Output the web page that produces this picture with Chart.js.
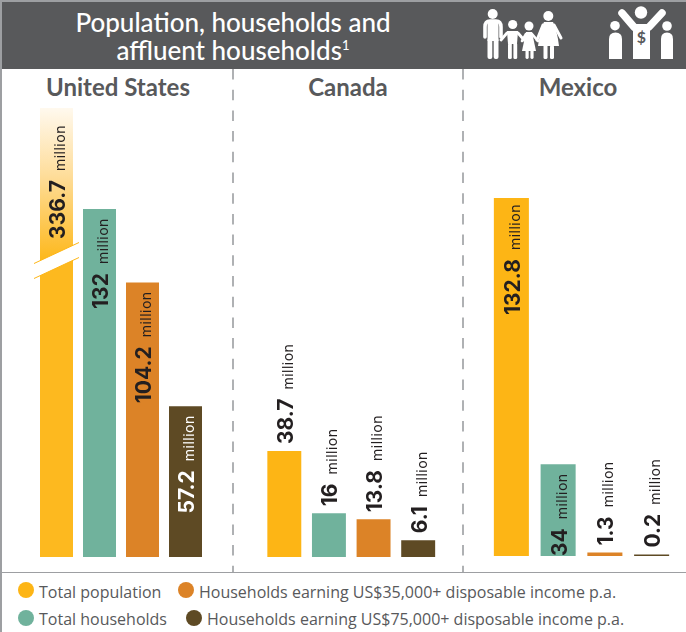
<!DOCTYPE html>
<html>
<head>
<meta charset="utf-8">
<title>Population, households and affluent households</title>
<script src="https://cdn.jsdelivr.net/npm/chart.js@4"></script>
<style>
  html, body { margin: 0; padding: 0; background: #fff; }
  #page { position: relative; width: 686px; height: 632px; overflow: hidden; font-family: "Lato", sans-serif; color: #58595b; }
  #page canvas, #page svg, #page div { position: absolute; }
  #banner { left: 2px; top: 2px; width: 684px; height: 67px; background: #58595b; }
  #frame { left: 0; top: 0; width: 2px; height: 632px; background: #9d9fa2; }
  #topline { left: 0; top: 0; width: 686px; height: 2px; background: #9d9fa2; }
  #rule { left: 2px; top: 572px; width: 684px; height: 1px; background: #9d9fa2; }
  .heading { left: 40px; width: 386px; text-align: center; color: #fff; font-size: 26px; font-weight: 500; line-height: 28px; white-space: nowrap; }
  .heading sup { font-size: 13px; line-height: 0; vertical-align: 10px; }
  .country { top: 73px; text-align: center; font-size: 24px; font-weight: 700; line-height: 28px; }
  .dot { width: 16px; height: 16px; border-radius: 50%; }
  .key { font-family: "Open Sans", sans-serif; font-size: 16px; line-height: 20px; white-space: nowrap; }
</style>
</head>
<body>
<div id="page">
  <div id="topline"></div>
  <div id="frame"></div>
  <div id="banner"></div>
  <div class="heading" style="top:8px">Population, households and</div>
  <div class="heading" style="top:36px">affluent households<sup>1</sup></div>

  <!-- family and earner icons -->
  <svg width="686" height="70" style="left:0;top:0" fill="#fff" stroke="none">
    <circle cx="492.7" cy="14" r="5"/>
    <path d="M485 37V27Q485 21 490 21H496Q501 21 501 27V37" fill="none" stroke="#fff" stroke-width="3.6" stroke-linecap="round"/>
    <rect x="487.5" y="21" width="11" height="20"/>
    <rect x="487.5" y="38" width="4.8" height="21" rx="2"/>
    <rect x="493.7" y="38" width="4.8" height="21" rx="2"/>
    <circle cx="512.7" cy="24.5" r="4.6"/>
    <path d="M507 31H518L517 44H508Z"/>
    <path d="M507 33L501 40M518 33L524 40" fill="none" stroke="#fff" stroke-width="2.8" stroke-linecap="round"/>
    <rect x="508" y="43" width="3.8" height="16" rx="1.5"/>
    <rect x="513.4" y="43" width="3.8" height="16" rx="1.5"/>
    <circle cx="529" cy="26" r="4.5"/>
    <path d="M526 32H532L536 51H522Z"/>
    <path d="M526 34L522 41M532 34L538 41" fill="none" stroke="#fff" stroke-width="2.6" stroke-linecap="round"/>
    <rect x="525.5" y="50" width="3.2" height="9" rx="1.4"/>
    <rect x="530.4" y="50" width="3.2" height="9" rx="1.4"/>
    <circle cx="548.3" cy="16" r="5"/>
    <path d="M544 22H553Q557 30 559 46H538Q540 30 544 22Z"/>
    <path d="M543 25L537 40M554 25L561 38" fill="none" stroke="#fff" stroke-width="3" stroke-linecap="round"/>
    <rect x="543.5" y="45" width="4" height="14" rx="1.6"/>
    <rect x="550" y="45" width="4" height="14" rx="1.6"/>

    <circle cx="615" cy="25.7" r="4.8"/>
    <path d="M609 59V39Q609 32.5 615.5 32.5Q622 32.5 622 39V59Z"/>
    <circle cx="667" cy="26" r="4.8"/>
    <path d="M661 59V39Q661 32.5 667 32.5Q673 32.5 673 39V59Z"/>
    <circle cx="641" cy="12.5" r="6.2"/>
    <path d="M622 13L634 27M662 13L649 27" fill="none" stroke="#fff" stroke-width="7.5" stroke-linecap="round"/>
    <rect x="633" y="24" width="17" height="35"/>
    <text x="641.3" y="43" text-anchor="middle" font-size="16" font-weight="700" fill="#58595b">$</text>
  </svg>

  <!-- panel dividers -->
  <svg width="686" height="632" style="left:0;top:0">
    <line x1="233" y1="69" x2="233" y2="572" stroke="#a7a9ac" stroke-width="1.8" stroke-dasharray="10.5 10.2"/>
    <line x1="463" y1="69" x2="463" y2="572" stroke="#a7a9ac" stroke-width="1.8" stroke-dasharray="10.5 10.2"/>
  </svg>

  <div class="country" style="left:3px;width:230px">United States</div>
  <div class="country" style="left:234px;width:228px">Canada</div>
  <div class="country" style="left:464px;width:228px">Mexico</div>

  <canvas id="usChart" width="230" height="464" style="left:3px;top:100px"></canvas>
  <canvas id="caChart" width="228" height="464" style="left:234px;top:100px"></canvas>
  <canvas id="mxChart" width="222" height="464" style="left:464px;top:100px"></canvas>

  <div id="rule"></div>

  <div class="dot" style="left:18px;top:582px;background:#fdb515"></div>
  <div class="key" style="left:39px;top:582px">Total population</div>
  <div class="dot" style="left:178px;top:582px;background:#dc8327"></div>
  <div class="key" style="left:199px;top:582px">Households earning US$35,000+ disposable income p.a.</div>
  <div class="dot" style="left:18px;top:610px;background:#70b29c"></div>
  <div class="key" style="left:39px;top:609px">Total households</div>
  <div class="dot" style="left:186px;top:610px;background:#5e4a24"></div>
  <div class="key" style="left:207px;top:609px">Households earning US$75,000+ disposable income p.a.</div>
</div>

<script>
const categories = ["Total population", "Total households", "Households earning US$35,000+", "Households earning US$75,000+"];
const barColors = ["#fdb515", "#70b29c", "#dc8327", "#5e4a24"];

const usValues = [336.7, 132, 104.2, 57.2];
const caValues = [38.7, 16, 13.8, 6.1];
const mxValues = [132.8, 34, 1.3, 0.2];

// whether each value label sits inside its bar or above it
const usPlacement = ["inside", "inside", "inside", "inside"];
const caPlacement = ["above", "above", "above", "above"];
const mxPlacement = ["inside", "inside", "above", "above"];

// linear axis that squeezes everything above breakAt, for the off-scale US bar
class BrokenLinearScale extends Chart.LinearScale {
  getPixelForValue(value, index) {
    const breakAt = this.options.breakAt;
    const squeeze = this.options.squeeze;
    const v = value > breakAt ? breakAt + (value - breakAt) * squeeze : value;
    return super.getPixelForValue(v, index);
  }
}
BrokenLinearScale.id = "brokenLinear";
Chart.register(BrokenLinearScale);

// rotated "value million" text
const valueLabels = {
  id: "valueLabels",
  afterDatasetsDraw(chart, args, opts) {
    const ctx = chart.ctx;
    const bars = chart.getDatasetMeta(0).data;
    const values = chart.data.datasets[0].data;
    bars.forEach((bar, i) => {
      const inside = opts.placement[i] === "inside";
      const text = String(values[i]);
      ctx.save();
      ctx.translate(bar.x + 8.5, inside ? bar.y + opts.insets[i] : bar.y - 7);
      ctx.rotate(-Math.PI / 2);
      ctx.textBaseline = "alphabetic";
      ctx.textAlign = "left";
      ctx.fillStyle = (inside && i === 3) ? "#ffffff" : "#231f20";
      ctx.font = "700 21px Inter";
      const numWidth = ctx.measureText(text).width;
      ctx.font = "400 14px Inter";
      ctx.letterSpacing = "0.5px";
      const unitWidth = ctx.measureText("million").width;
      const start = inside ? -(numWidth + 9 + unitWidth) : 0;
      ctx.fillText("million", start + numWidth + 9, 0);
      ctx.letterSpacing = "0px";
      ctx.font = "700 21px Inter";
      ctx.fillText(text, start, 0);
      ctx.restore();
    });
  }
};

// white slash across the off-scale bar
const breakMark = {
  id: "breakMark",
  afterDatasetsDraw(chart, args, opts) {
    if (!opts.value) return;
    const ctx = chart.ctx;
    const bar = chart.getDatasetMeta(0).data[0];
    const y = chart.scales.y.getPixelForValue(opts.value);
    const left = bar.x - 22.5, right = bar.x + 22.5;
    const rise = 10.5, gap = 7.5;
    ctx.save();
    ctx.fillStyle = "#ffffff";
    ctx.beginPath();
    ctx.moveTo(left, y + rise - gap);
    ctx.lineTo(right, y - rise - gap);
    ctx.lineTo(right, y - rise + gap);
    ctx.lineTo(left, y + rise + gap);
    ctx.closePath();
    ctx.fill();
    ctx.strokeStyle = barColors[0];
    ctx.lineWidth = 1;
    ctx.beginPath();
    ctx.moveTo(left, y + rise - gap);
    ctx.lineTo(right, y - rise - gap);
    ctx.moveTo(left, y + rise + gap);
    ctx.lineTo(right, y - rise + gap);
    ctx.stroke();
    ctx.restore();
  }
};

function barFill(context) {
  const chart = context.chart;
  const color = barColors[context.dataIndex];
  const yAxis = chart.options.scales.y;
  if (yAxis.type !== "brokenLinear" || context.dataIndex !== 0 || !chart.chartArea) return color;
  const top = chart.scales.y.getPixelForValue(context.dataset.data[0]);
  const fade = chart.ctx.createLinearGradient(0, top, 0, top + 150);
  fade.addColorStop(0, "#fff9ee");
  fade.addColorStop(0.45, "#fedd9a");
  fade.addColorStop(1, "#fdb91f");
  return fade;
}

function makePanel(canvasId, values, placement, frame, yOptions, breakValue) {
  new Chart(document.getElementById(canvasId), {
    type: "bar",
    data: {
      labels: categories,
      datasets: [{ data: values, backgroundColor: barFill, barPercentage: frame.barShare, categoryPercentage: 1, minBarLength: 1.5 }]
    },
    options: {
      responsive: false,
      animation: false,
      layout: { padding: { left: frame.left, right: frame.right, top: 0, bottom: frame.bottom } },
      plugins: {
        legend: { display: false },
        tooltip: { enabled: false },
        valueLabels: { placement: placement, insets: frame.insets },
        breakMark: { value: breakValue }
      },
      scales: {
        x: { display: false },
        y: Object.assign({ display: false, min: 0 }, yOptions)
      }
    },
    plugins: [breakMark, valueLabels]
  });
}

makePanel("usChart", usValues, usPlacement,
  { left: 32, right: 26, bottom: 7, barShare: 33 / 43, insets: [17, 9, 9, 9] },
  { type: "brokenLinear", max: 173.4, breakAt: 140, squeeze: 0.1542 }, 112.5);
makePanel("caChart", caValues, caPlacement,
  { left: 28, right: 21.5, bottom: 7, barShare: 34 / 44.7, insets: [9, 9, 9, 9] },
  { max: 167 });
makePanel("mxChart", mxValues, mxPlacement,
  { left: 24, right: 11, bottom: 8, barShare: 35 / 46.7, insets: [6, 9, 9, 9] },
  { max: 169.2 });
</script>
</body>
</html>
